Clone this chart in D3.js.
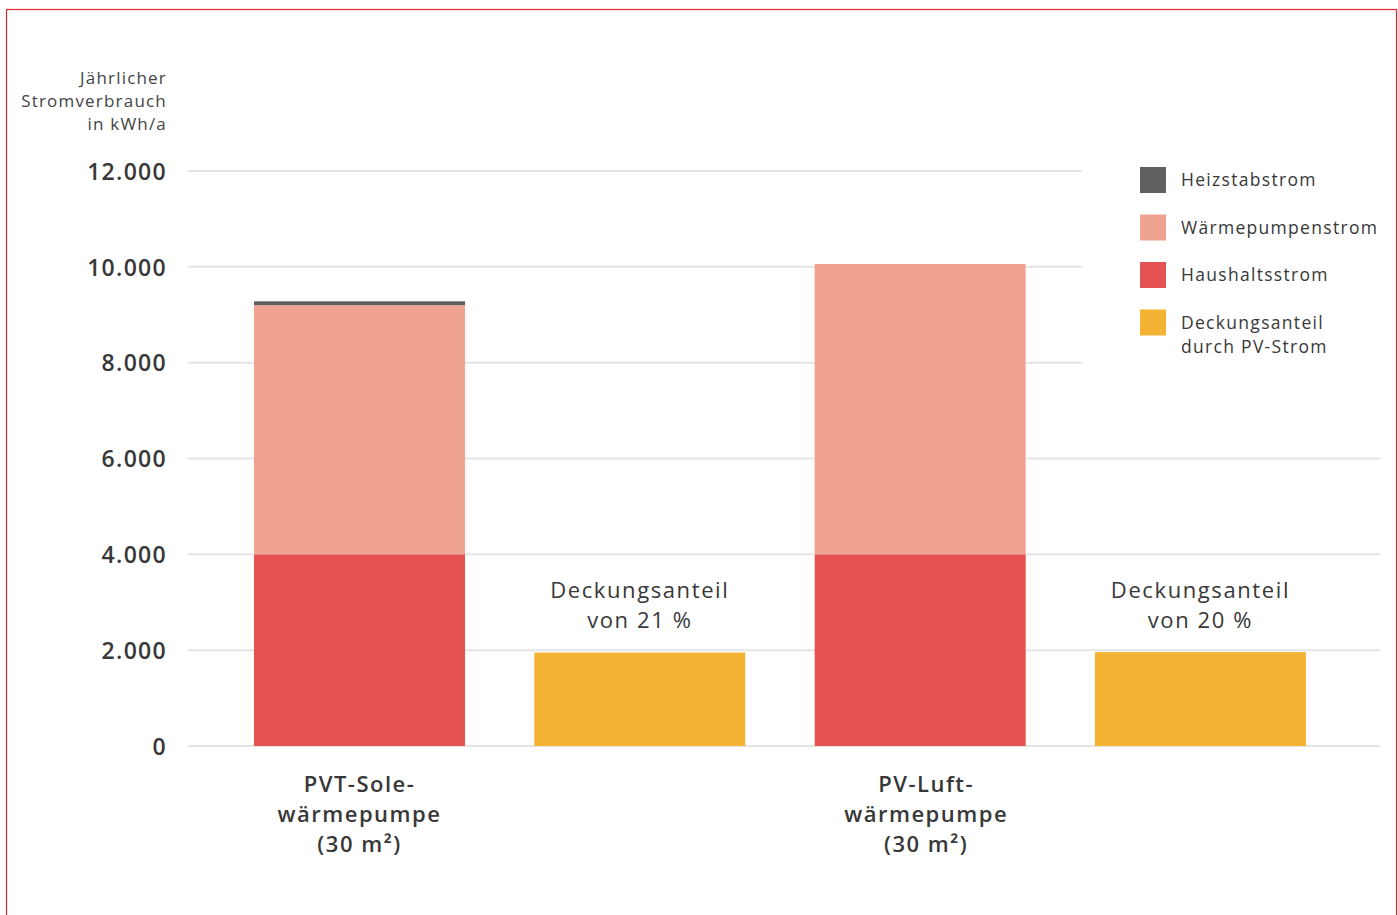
<!DOCTYPE html>
<html><head><meta charset="utf-8">
<script src="https://cdn.jsdelivr.net/npm/d3@7"></script>
<style>
html,body{margin:0;padding:0;background:#fff;}
svg{display:block;font-family:"Open Sans",Lato,sans-serif;}
</style></head>
<body>
<svg id="chart" width="1398" height="915"></svg>
<script>
// ---- data ----
const categories = ["PVT-Sole-wärmepumpe (30 m²)", "PV-Luft-wärmepumpe (30 m²)"];
const categoryLines = [["PVT-Sole-", "wärmepumpe", "(30 m²)"], ["PV-Luft-", "wärmepumpe", "(30 m²)"]];
const haushaltsstrom = [4000, 4000];
const waermepumpenstrom = [5200, 6060];
const heizstabstrom = [80, 0];
const pvDeckung = [1950, 1960];
const deckungsanteilProzent = [21, 20];
const yTicks = [0, 2000, 4000, 6000, 8000, 10000, 12000];
const legendItems = ["Heizstabstrom", "Wärmepumpenstrom", "Haushaltsstrom", "Deckungsanteil|durch PV-Strom"];
const colors = {heiz: "#606060", wp: "#f1a391", haus: "#e65251", pv: "#f5b334"};
const legendColors = [colors.heiz, colors.wp, colors.haus, colors.pv];

const svg = d3.select("#chart");
const textCol = "#383838";

// border
svg.append("rect").attr("x", 6.5).attr("y", 9.5).attr("width", 1390).attr("height", 920)
  .attr("fill", "none").attr("stroke", "#e3262d").attr("stroke-width", 1.2);

const y = d3.scaleLinear().domain([0, 12000]).range([746, 171]);
const x0 = d3.scaleBand().domain(categories).range([254, 254 + 2 * 560.66]);
const x1 = d3.scaleBand().domain(["stack", "pv"]).range([0, 491.3]).paddingInner(0.247).paddingOuter(0);
const fmt = v => d3.format(",")(v).replace(/,/g, ".");

// gridlines
svg.append("g").selectAll("line").data(yTicks).join("line")
  .attr("x1", 188).attr("x2", d => d >= 8000 ? 1082 : 1380)
  .attr("y1", d => y(d)).attr("y2", d => y(d))
  .attr("stroke", "#e4e4e4").attr("stroke-width", 2);

// y axis labels via d3 axis
const yAxis = d3.axisLeft(y).tickValues(yTicks).tickFormat(fmt).tickSize(0).tickPadding(0);
const gy = svg.append("g").attr("transform", "translate(167,0)").call(yAxis);
gy.select(".domain").remove();
gy.selectAll("text").attr("font-size", 23).attr("font-weight", 600).attr("fill", textCol)
  .attr("font-family", "'Open Sans', sans-serif").attr("dy", "0.36em").style("letter-spacing", "1.3px");

// axis title
const title = svg.append("text").attr("text-anchor", "end").attr("font-size", 17).attr("fill", "#444")
  .attr("font-weight", 500).style("letter-spacing", "1.2px");
["Jährlicher", "Stromverbrauch", "in kWh/a"].forEach((t, i) =>
  title.append("tspan").attr("x", 167).attr("y", 84 + i * 23).text(t));

// stacked bars
categories.forEach((c, i) => {
  const bx = x0(c) + x1("stack");
  const w = x1.bandwidth();
  const segs = [
    {v0: 0, v1: haushaltsstrom[i], col: colors.haus},
    {v0: haushaltsstrom[i], v1: haushaltsstrom[i] + waermepumpenstrom[i], col: colors.wp},
    {v0: haushaltsstrom[i] + waermepumpenstrom[i], v1: haushaltsstrom[i] + waermepumpenstrom[i] + heizstabstrom[i], col: colors.heiz}
  ];
  svg.append("g").selectAll("rect").data(segs.filter(s => s.v1 > s.v0)).join("rect")
    .attr("x", bx).attr("width", w)
    .attr("y", s => y(s.v1)).attr("height", s => y(s.v0) - y(s.v1))
    .attr("fill", s => s.col);

  const px = x0(c) + x1("pv");
  svg.append("rect").attr("x", px).attr("width", w)
    .attr("y", y(pvDeckung[i])).attr("height", y(0) - y(pvDeckung[i])).attr("fill", colors.pv);

  const lab = svg.append("text").attr("text-anchor", "middle").attr("font-size", 22).attr("fill", textCol)
    .attr("font-weight", 500).style("letter-spacing", "1.6px");
  ["Deckungsanteil", "von " + deckungsanteilProzent[i] + " %"].forEach((t, k) =>
    lab.append("tspan").attr("x", px + w / 2).attr("y", 598 + k * 30).text(t));

  const cl = svg.append("text").attr("text-anchor", "middle").attr("font-size", 22)
    .attr("font-weight", 600).attr("fill", textCol).style("letter-spacing", "1.5px");
  categoryLines[i].forEach((t, k) =>
    cl.append("tspan").attr("x", bx + w / 2 + (i === 1 ? 6 : 0)).attr("y", 792 + k * 30).text(t));
});

// legend
const lg = svg.append("g");
legendItems.forEach((t, i) => {
  const yy = 167 + i * 47.5;
  lg.append("rect").attr("x", 1140).attr("y", yy).attr("width", 26).attr("height", 26).attr("fill", legendColors[i]);
  const tx = lg.append("text").attr("font-size", 17.5).attr("fill", textCol)
    .attr("font-weight", 500).style("letter-spacing", "1.3px");
  t.split("|").forEach((s, k) =>
    tx.append("tspan").attr("x", 1181).attr("y", yy + 19 + k * 24).text(s));
});
</script>
</body></html>
